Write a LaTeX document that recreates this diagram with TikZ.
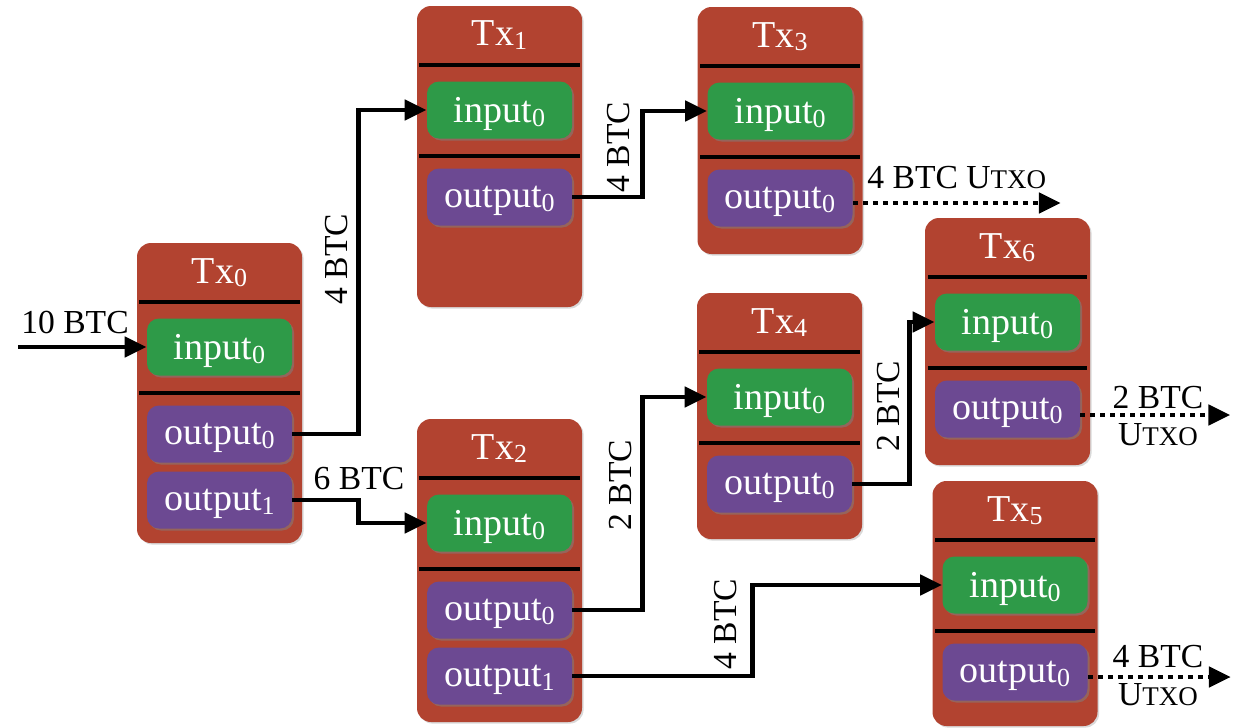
\documentclass[tikz,border=0pt]{standalone}
\usepackage{fontspec}
\setmainfont{Liberation Serif}
\usetikzlibrary{arrows.meta,shadows}
\definecolor{txred}{RGB}{178,67,48}
\definecolor{ingreen}{RGB}{46,154,72}
\definecolor{outpurple}{RGB}{108,73,146}
\newcommand{\utxo}{U{\fontsize{13.5}{13.5}\selectfont TXO}}
\newcommand{\idx}[1]{\raisebox{-.1em}{\fontsize{13}{13}\selectfont #1}}
\begin{document}
\begin{tikzpicture}[x=0.5pt,y=-0.5pt,
  tx/.style={fill=txred, rounded corners=7pt, minimum width=82.5pt, inner sep=0pt,
    drop shadow={shadow xshift=.8pt, shadow yshift=-.8pt, opacity=.3}},
  slot/.style={rounded corners=6pt, minimum width=72.5pt, minimum height=28.5pt,
    inner sep=0pt, text=white, text depth=0pt, font=\fontsize{19}{22}\selectfont,
    drop shadow={shadow xshift=1pt, shadow yshift=-1pt, opacity=.55}},
  inbox/.style={slot, fill=ingreen},
  outbox/.style={slot, fill=outpurple},
  title/.style={anchor=base, text=white, font=\fontsize{19}{22}\selectfont},
  sep/.style={line width=2.4pt},
  flow/.style={line width=2.4pt, -{Triangle[length=11pt,width=10pt]}},
  unspent/.style={flow, dash pattern=on 2.5pt off 2.5pt},
  btc/.style={inner sep=0pt, font=\fontsize{16.8}{19}\selectfont}]
  \useasboundingbox (0,0) rectangle (1233,728);
  % transactions
  \node[tx, minimum height=150pt] (tx0) at (219.5,393) {};
  \node[tx, minimum height=150.5pt] (tx1) at (499.5,156.5) {};
  \node[tx, minimum height=123.5pt] (tx3) at (780,130.5) {};
  \node[tx, minimum height=151.5pt] (tx2) at (499.5,570.5) {};
  \node[tx, minimum height=123pt] (tx4) at (779.5,416) {};
  \node[tx, minimum height=123.5pt] (tx6) at (1007.5,341.5) {};
  \node[tx, minimum height=122.5pt] (tx5) at (1015,603.5) {};
  % titles
  \node[title] at (219.5,283) (t0) {Tx\idx{0}};
  \node[title] at (499.5,46) (t1) {Tx\idx{1}};
  \node[title] at (780,47) (t3) {Tx\idx{3}};
  \node[title] at (499.5,459) (t2) {Tx\idx{2}};
  \node[title] at (779.5,333) (t4) {Tx\idx{4}};
  \node[title] at (1007.5,258) (t6) {Tx\idx{6}};
  \node[title] at (1015,521) (t5) {Tx\idx{5}};
  % separators
  \draw[sep] (139,302) -- (300,302);
  \draw[sep] (139,393) -- (300,393);
  \draw[sep] (419,65) -- (580,65);
  \draw[sep] (419,156) -- (580,156);
  \draw[sep] (700,66) -- (860,66);
  \draw[sep] (700,157) -- (860,157);
  \draw[sep] (419,478) -- (580,478);
  \draw[sep] (419,569) -- (580,569);
  \draw[sep] (699,352) -- (860,352);
  \draw[sep] (699,443) -- (860,443);
  \draw[sep] (928,277) -- (1087,277);
  \draw[sep] (928,368) -- (1087,368);
  \draw[sep] (935,540) -- (1095,540);
  \draw[sep] (935,631) -- (1095,631);
  % inputs
  \node[inbox] at (219.5,347) (tx0in) {input\idx{0}};
  \node[inbox] at (499.5,110) (tx1in) {input\idx{0}};
  \node[inbox] at (780,111) (tx3in) {input\idx{0}};
  \node[inbox] at (499.5,523) (tx2in) {input\idx{0}};
  \node[inbox] at (779.5,397) (tx4in) {input\idx{0}};
  \node[inbox] at (1007.5,322) (tx6in) {input\idx{0}};
  \node[inbox] at (1015,585) (tx5in) {input\idx{0}};
  % outputs
  \node[outbox] at (219.5,434) (tx0out0) {output\idx{0}};
  \node[outbox] at (219.5,500) (tx0out1) {output\idx{1}};
  \node[outbox] at (499.5,197) (tx1out0) {output\idx{0}};
  \node[outbox] at (780,198) (tx3out0) {output\idx{0}};
  \node[outbox] at (499.5,610) (tx2out0) {output\idx{0}};
  \node[outbox] at (499.5,676) (tx2out1) {output\idx{1}};
  \node[outbox] at (779.5,484) (tx4out0) {output\idx{0}};
  \node[outbox] at (1007.5,409) (tx6out0) {output\idx{0}};
  \node[outbox] at (1015,672) (tx5out0) {output\idx{0}};
  % flows
  \coordinate (coinbase) at (18,347);
  \draw[flow] (coinbase) -- (tx0in.west);
  \draw[flow] (tx0out0.east) -- ++(66,0) |- (tx1in.west);
  \draw[flow] (tx0out1.east) -- ++(66,0) |- (tx2in.west);
  \draw[flow] (tx1out0.east) -- ++(70,0) |- (tx3in.west);
  \draw[flow] (tx2out0.east) -- ++(70,0) |- (tx4in.west);
  \draw[flow] (tx2out1.east) -- ++(180,0) |- (tx5in.west);
  \draw[flow] (tx4out0.east) -- ++(57,0) |- (tx6in.west);
  \draw[unspent] ([yshift=-2.5pt]tx3out0.east) -- ++(208,0);
  \draw[unspent] ([yshift=-3pt]tx6out0.east) -- ++(150,0);
  \draw[unspent] ([yshift=-2.5pt]tx5out0.east) -- ++(143,0);
  % amounts
  \node[btc, anchor=base] at (75,333) (a0) {10 BTC};
  \node[btc, rotate=90] at (337,259) (a1) {4 BTC};
  \node[btc, anchor=base] at (359,489) (a2) {6 BTC};
  \node[btc, rotate=90] at (619,147) (a3) {4 BTC};
  \node[btc, rotate=90] at (621,485) (a4) {2 BTC};
  \node[btc, rotate=90] at (726,624) (a5) {4 BTC};
  \node[btc, rotate=90] at (889,406) (a6) {2 BTC};
  \node[btc, anchor=base west] at (867,188) (u3) {4 BTC \utxo};
  \node[btc, anchor=base] at (1158,408) (a7) {2 BTC};
  \node[btc, anchor=base] at (1158,445) (u6) {\utxo};
  \node[btc, anchor=base] at (1158,667) (a8) {4 BTC};
  \node[btc, anchor=base] at (1158,705) (u5) {\utxo};
\end{tikzpicture}
\end{document}
